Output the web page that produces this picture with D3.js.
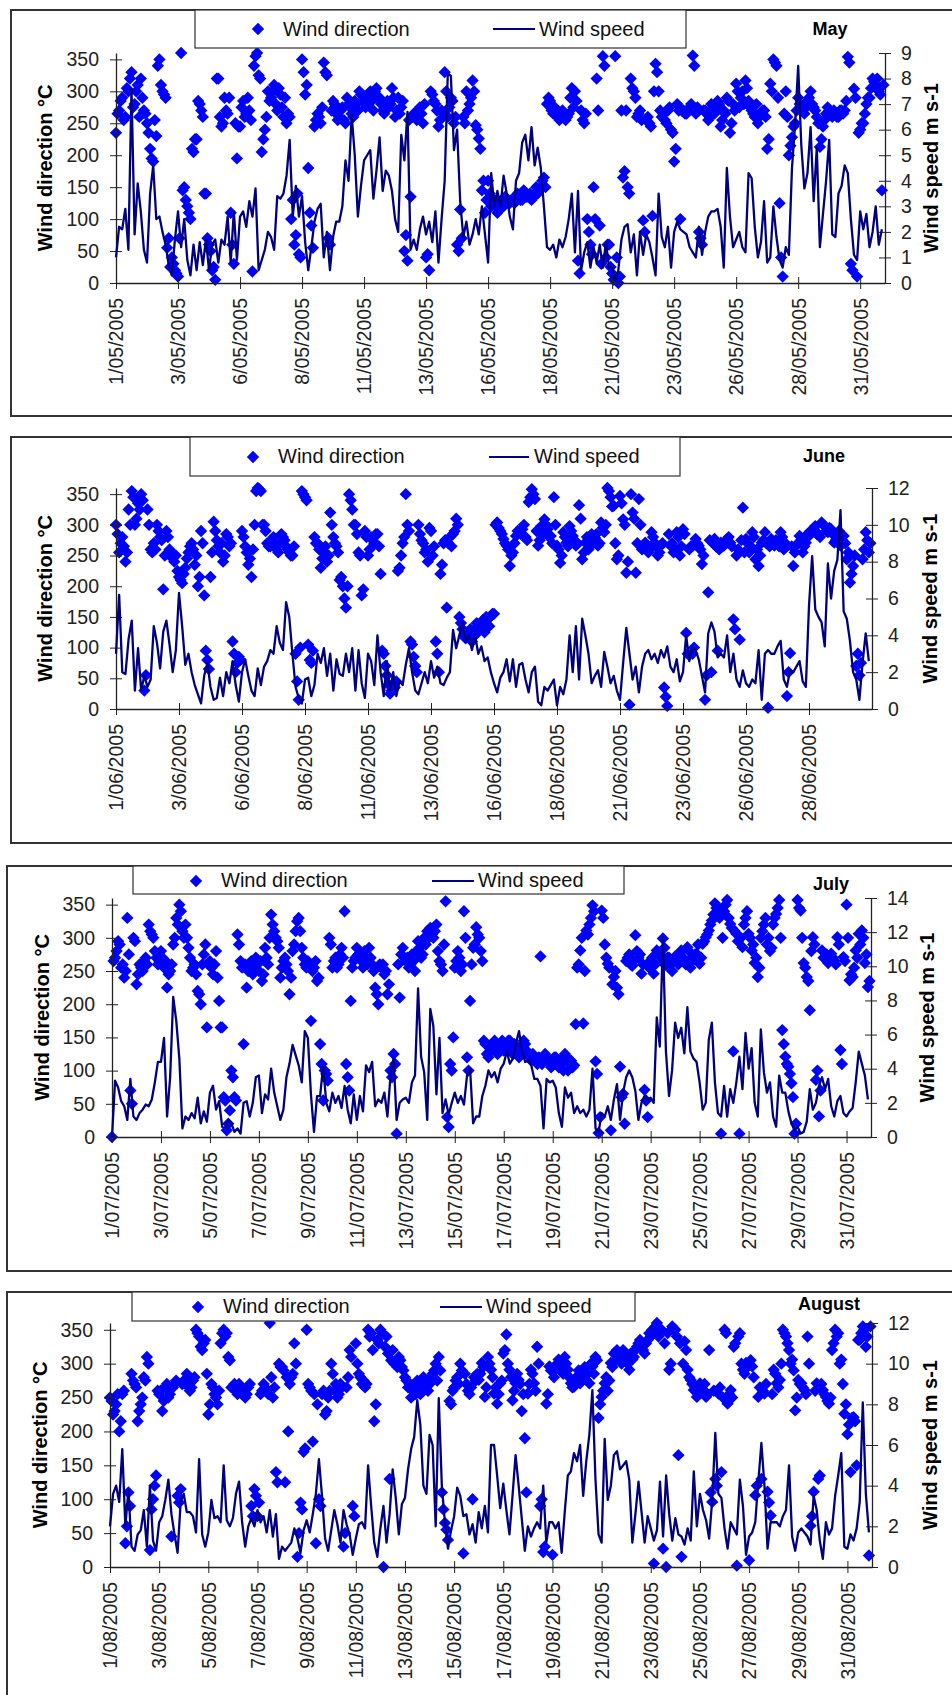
<!DOCTYPE html>
<html>
<head>
<meta charset="utf-8">
<title>Wind direction and wind speed, May - August 2005</title>
<script src="https://cdn.jsdelivr.net/npm/d3@7"></script>
<style>
  body { margin: 0; background: #fff; }
  svg { display: block; font-family: "Liberation Sans", Arial, sans-serif; }
</style>
</head>
<body>
<svg id="chart" width="952" height="1695"></svg>
<script>
// readings are 3-hourly: 8 per day, one row per day.
// direction was logged twice as often; the *DirB arrays hold the in-between readings.
var STEPS = 8;

// wind speed, m s-1
var maySpeed = [
  1.0, 2.2, 2.1, 2.9, 1.3, 7.6, 1.9, 3.9,  2.8, 1.3, 0.8, 3.5, 4.6, 2.5, 2.6, 2.0,
  1.5, 0.7, 0.3, 1.7, 2.8, 1.4, 2.5, 0.9,  0.3, 1.5, 0.5, 1.6, 0.7, 1.7, 0.5, 1.5,
  1.7, 0.8, 1.7, 1.5, 2.6, 0.8, 2.8, 0.9,  2.6, 2.8, 2.2, 3.2, 2.6, 3.7, 0.5, 0.9,
  1.3, 2.0, 1.8, 1.3, 3.4, 3.3, 3.5, 4.2,  5.6, 2.6, 3.8, 2.6, 3.4, 1.6, 0.5, 1.4,
  2.4, 2.9, 3.1, 1.0, 2.0, 0.5, 1.8, 2.4,  2.4, 3.0, 4.8, 4.0, 6.6, 5.0, 2.6, 3.8,
  4.8, 5.0, 5.2, 3.3, 4.4, 5.7, 3.6, 4.4,  4.2, 3.6, 2.5, 2.0, 5.8, 4.8, 6.7, 1.3,
  1.7, 1.3, 2.1, 2.6, 1.9, 2.4, 1.6, 2.8,  0.8, 2.5, 4.0, 8.2, 8.1, 5.2, 6.0, 3.2,
  1.8, 2.4, 1.5, 1.9, 2.5, 1.9, 3.0, 1.9,  0.8, 4.3, 3.0, 3.6, 3.0, 4.2, 3.5, 2.6,
  2.1, 4.0, 4.3, 5.5, 5.8, 4.8, 6.1, 4.6,  5.3, 4.5, 3.0, 1.4, 1.3, 1.5, 1.0, 1.7,
  1.4, 1.8, 2.5, 3.5, 1.2, 3.6, 0.5, 1.2,  1.6, 0.6, 1.4, 0.8, 1.5, 0.6, 1.6, 0.6,
  0.6, 0.1, 0.5, 1.7, 2.2, 2.3, 1.2, 1.9,  0.3, 2.0, 1.1, 1.9, 1.6, 1.0, 0.3, 3.5,
  1.8, 1.4, 2.2, 0.6, 2.0, 2.4, 2.1, 2.0,  1.9, 1.4, 1.2, 1.0, 2.2, 1.1, 2.0, 2.6,
  2.8, 2.8, 2.9, 2.2, 0.6, 4.5, 2.6, 1.4,  1.7, 2.0, 1.4, 1.2, 4.3, 4.1, 2.2, 1.0,
  1.6, 3.2, 0.8, 1.0, 3.0, 1.8, 0.9, 0.6,  1.4, 1.1, 4.5, 6.2, 8.5, 5.4, 3.7, 4.3,
  6.1, 3.2, 5.3, 1.4, 2.7, 4.0, 5.6, 1.9,  1.8, 3.5, 3.8, 4.6, 4.3, 2.5, 1.1, 0.9,
  2.8, 2.1, 2.7, 1.4, 2.0, 3.0, 1.5, 2.1
];
// wind direction, degrees
var mayDir = [
  235, 270, 290, 260, 300, 330, 280, 310,  320, 270, 250, 210, 190, 230, 350, 300,
  290, 70, 40, 20, 10, 360, 150, 120,      100, 205, 225, 280, 260, 140, 60, 20,
  5, 320, 245, 290, 265, 110, 30, 195,     245, 285, 265, 270, 18, 355, 325, 205,
  240, 300, 290, 310, 270, 295, 260, 250,  260, 130, 75, 45, 350, 295, 180, 90,
  245, 265, 250, 345, 325, 60, 285, 265,   260, 275, 250, 280, 265, 285, 270, 295,
  290, 280, 300, 270, 305, 290, 270, 280,  275, 305, 260, 290, 275, 50, 35, 135,
  265, 255, 275, 250, 40, 20, 295, 280,    245, 270, 330, 260, 290, 250, 60, 115,
  260, 300, 280, 317, 247, 226, 145, 110,  160, 120, 130, 110, 125, 120, 130, 125,
  130, 135, 135, 130, 140, 135, 130, 140,  140, 150, 165, 280, 285, 265, 270, 255,
  270, 255, 265, 305, 300, 35, 270, 250,   100, 60, 150, 320, 90, 355, 40, 60,
  15, 355, 0, 270, 175, 150, 320, 300,     260, 270, 98, 255, 250, 105, 343, 300,
  260, 255, 270, 240, 190, 280, 100, 270,  265, 275, 356, 265, 80, 60, 270, 255,
  280, 265, 285, 245, 270, 290, 235, 280,  312, 275, 300, 317, 285, 270, 260, 250,
  265, 270, 210, 312, 350, 340, 125, 10,   300, 200, 228, 250, 290, 275, 265, 285,
  300, 275, 260, 213, 245, 265, 270, 260,  265, 260, 270, 270, 354, 30, 304, 10,
  240, 250, 280, 290, 320, 310, 300, 145
];
var mayDirB = [
  265, 285, 255, 305, 320, 275, 300, 260,  290, 265, 235, 195, 255, 340, 310, 295,
  55, 25, 30, 15, 70, 145, 130, 110,       210, 225, 285, 270, 140, 70, 50, 25,
  320, 260, 250, 270, 290, 60, 250, 245,   275, 260, 290, 255, 340, 360, 320, 225,
  260, 285, 300, 280, 305, 275, 290, 265,  100, 60, 140, 40, 330, 310, 110, 55,
  255, 260, 275, 330, 70, 270, 280, 255,   270, 255, 290, 275, 260, 280, 300, 285,
  275, 295, 285, 300, 290, 280, 265, 285,  280, 290, 270, 265, 285, 75, 255, 260,
  260, 270, 265, 280, 45, 300, 285, 270,   255, 265, 300, 275, 285, 260, 50, 70,
  250, 270, 290, 300, 240, 210, 160, 130,  140, 125, 120, 115, 130, 135, 125, 130,
  125, 140, 130, 145, 135, 140, 135, 150,  145, 160, 150, 290, 270, 275, 260, 265,
  265, 260, 290, 275, 285, 15, 255, 265,   80, 45, 100, 270, 30, 340, 60, 25,
  5, 40, 10, 165, 270, 140, 305, 290,      265, 255, 80, 260, 245, 300, 330, 270,
  265, 250, 275, 235, 210, 270, 270, 265,  270, 280, 340, 275, 70, 270, 265, 260,
  275, 270, 280, 255, 265, 285, 250, 270,  300, 290, 280, 305, 275, 265, 280, 260,
  270, 260, 225, 300, 345, 290, 40, 265,   260, 215, 245, 270, 280, 270, 275, 290,
  280, 270, 250, 225, 255, 275, 265, 270,  260, 270, 265, 285, 345, 20, 290, 235,
  250, 265, 290, 305, 315, 320, 295, 310
];

var juneSpeed = [
  3.0, 6.2, 2.0, 1.9, 3.8, 4.8, 1.0, 3.3,  1.0, 1.8, 1.2, 1.6, 4.5, 3.6, 2.2, 4.2,
  4.8, 3.5, 2.0, 3.2, 6.3, 4.5, 2.4, 3.0,  2.0, 1.3, 0.8, 0.3, 1.8, 2.5, 1.2, 0.5,
  0.6, 1.7, 0.7, 2.0, 1.4, 2.6, 1.3, 0.4,  2.0, 2.7, 1.8, 1.0, 0.7, 2.2, 1.3, 2.3,
  2.6, 3.2, 3.0, 4.5, 3.6, 3.2, 5.8, 5.0,  3.0, 1.2, 0.6, 0.3, 1.6, 1.7, 0.7, 1.3,
  3.0, 2.5, 3.3, 1.8, 3.0, 1.0, 2.7, 1.9,  1.8, 3.0, 2.0, 3.3, 1.0, 3.2, 1.4, 0.6,
  3.0, 2.6, 1.3, 4.0, 2.0, 0.7, 2.6, 1.0,  2.0, 0.7, 1.5, 1.3, 2.4, 3.3, 2.0, 1.0,
  0.8, 1.4, 2.0, 1.4, 2.6, 1.7, 2.3, 1.4,  1.3, 1.7, 2.0, 4.3, 3.3, 4.0, 4.7, 3.7,
  4.0, 3.2, 4.0, 3.0, 3.4, 2.6, 2.8, 2.0,  1.4, 0.9, 1.7, 2.0, 2.7, 1.5, 2.7, 1.2,
  2.4, 2.5, 1.6, 0.9, 2.0, 2.3, 0.4, 0.2,  1.2, 1.0, 1.3, 1.6, 0.2, 1.2, 0.8, 1.6,
  4.0, 2.0, 4.5, 1.6, 4.9, 4.0, 3.0, 1.4,  1.8, 2.1, 1.2, 3.1, 2.3, 1.4, 1.8, 1.0,
  0.5, 2.5, 4.4, 3.0, 1.6, 2.3, 0.9, 2.3,  3.0, 3.2, 2.7, 3.0, 2.5, 3.2, 2.8, 3.4,
  2.3, 2.0, 2.7, 1.5, 2.0, 4.0, 2.6, 3.3,  3.2, 2.7, 1.8, 0.9, 4.1, 4.7, 4.2, 2.8,
  3.0, 2.8, 4.0, 2.0, 3.0, 1.6, 1.2, 2.1,  1.4, 1.2, 1.6, 1.4, 3.2, 0.5, 3.0, 3.2,
  3.0, 3.0, 3.4, 3.7, 1.6, 1.2, 2.1, 2.0,  2.3, 2.6, 1.5, 1.2, 5.6, 8.3, 5.4, 5.0,
  4.7, 3.4, 7.9, 6.0, 7.5, 8.1, 10.8, 5.3, 4.9, 3.7, 2.0, 1.6, 0.5, 2.5, 4.1, 2.6
];
var juneDir = [
  300, 255, 280, 240, 325, 355, 300, 335,  350, 30, 325, 260, 270, 300, 280, 195,
  290, 260, 245, 250, 215, 205, 230, 255,  270, 235, 200, 290, 185, 80, 215, 305,
  275, 255, 240, 285, 265, 110, 60, 85,    290, 265, 235, 215, 300, 360, 355, 300,
  270, 265, 280, 260, 270, 280, 265, 255,  250, 90, 15, 355, 345, 105, 75, 280,
  270, 230, 255, 240, 320, 280, 265, 210,  200, 165, 350, 325, 300, 255, 185, 290,
  250, 280, 270, 285, 220, 90, 55, 25,     40, 45, 230, 270, 350, 290, 105, 70,
  300, 275, 255, 240, 290, 265, 90, 220,   270, 165, 280, 285, 310, 150, 130, 115,
  125, 110, 120, 135, 140, 125, 146, 151,  155, 304, 290, 277, 266, 233, 255, 282,
  288, 293, 280, 337, 358, 342, 266, 298,  309, 293, 282, 345, 266, 238, 288, 271,
  298, 282, 266, 332, 244, 271, 260, 285,  279, 266, 304, 288, 360, 345, 331, 244,
  347, 309, 222, 7, 320, 222, 342, 260,    271, 255, 288, 271, 250, 266, 35, 5,
  266, 255, 288, 250, 293, 124, 260, 90,   277, 266, 236, 15, 190, 60, 277, 95,
  271, 266, 277, 271, 146, 250, 113, 328,  277, 255, 288, 244, 233, 271, 288, 2,
  277, 266, 271, 288, 260, 21, 91, 233,    266, 282, 255, 271, 282, 288, 298, 285,
  304, 298, 288, 293, 271, 282, 266, 282,  244, 206, 233, 70, 55, 244, 288, 255
];
var juneDirB = [
  285, 270, 265, 255, 300, 345, 310, 325,  340, 55, 300, 255, 260, 290, 275, 250,
  280, 255, 240, 225, 210, 220, 245, 265,  260, 250, 215, 270, 95, 65, 255, 290,
  265, 270, 250, 280, 270, 90, 75, 80,     280, 255, 245, 260, 355, 358, 300, 290,
  265, 275, 270, 255, 285, 275, 260, 250,  265, 45, 100, 350, 340, 80, 95, 270,
  260, 245, 265, 250, 300, 270, 255, 215,  180, 200, 340, 300, 285, 250, 195, 280,
  260, 275, 285, 265, 95, 70, 40, 30,      35, 225, 250, 280, 300, 110, 85, 60,
  285, 270, 260, 295, 250, 110, 60, 235,   275, 270, 265, 290, 300, 140, 120, 125,
  130, 120, 140, 130, 145, 150, 135, 155,  300, 295, 285, 270, 260, 250, 270, 290,
  285, 300, 275, 345, 350, 290, 275, 285,  300, 280, 270, 300, 260, 250, 280, 265,
  290, 275, 270, 310, 255, 280, 265, 275,  285, 270, 295, 300, 355, 330, 270, 250,
  335, 300, 240, 350, 310, 270, 300, 265,  265, 260, 280, 265, 255, 270, 20, 285,
  270, 260, 280, 265, 285, 90, 265, 100,   270, 260, 250, 55, 275, 270, 265, 260,
  265, 270, 280, 265, 130, 260, 275, 255,  270, 265, 280, 260, 250, 275, 270, 265,
  270, 275, 265, 280, 270, 60, 265, 255,   270, 275, 265, 285, 290, 295, 285, 280,
  300, 290, 295, 285, 275, 290, 275, 270,  255, 220, 250, 90, 75, 260, 275, 270
];

var julySpeed = [
  0.0, 3.3, 2.9, 2.1, 1.8, 1.0, 3.4, 1.2,  1.0, 1.4, 1.6, 1.9, 1.8, 2.2, 3.2, 4.4,
  4.4, 5.8, 1.2, 3.5, 8.2, 6.8, 4.6, 0.5,  1.2, 1.0, 1.4, 1.1, 2.3, 0.8, 1.5, 0.9,
  2.6, 3.0, 1.6, 2.1, 0.6, 0.5, 1.0, 0.8,  0.3, 0.5, 0.2, 2.0, 2.1, 1.2, 2.0, 3.5,
  3.6, 1.4, 2.5, 2.2, 4.0, 2.6, 1.8, 1.0,  1.6, 3.5, 4.3, 5.4, 4.8, 4.2, 3.2, 6.2,
  5.8, 2.5, 0.3, 2.4, 2.4, 4.2, 2.0, 1.5,  2.6, 2.0, 2.4, 1.7, 3.0, 1.6, 0.8, 2.5,
  1.0, 2.4, 1.5, 4.2, 3.8, 4.4, 1.8, 2.2,  2.0, 2.6, 1.2, 3.6, 4.6, 1.0, 2.0, 2.2,
  2.3, 2.0, 3.2, 3.6, 8.7, 4.7, 3.8, 1.0,  7.5, 6.5, 2.5, 5.8, 1.4, 2.2, 1.3, 2.0,
  2.6, 2.0, 2.4, 1.9, 3.6, 4.0, 0.8, 1.2,  1.2, 2.4, 3.0, 3.9, 3.5, 3.8, 3.2, 4.0,
  4.3, 5.0, 4.3, 4.6, 5.5, 6.2, 5.0, 4.4,  4.5, 4.2, 3.4, 3.4, 3.0, 0.5, 3.4, 3.2,
  3.3, 2.9, 1.4, 0.6, 2.9, 2.3, 2.6, 1.4,  1.8, 1.4, 1.6, 1.2, 1.6, 4.0, 0.5, 0.3,
  1.4, 1.2, 1.8, 1.0, 2.2, 3.1, 1.0, 2.6,  3.5, 3.9, 3.5, 2.7, 1.0, 2.0, 2.4, 2.2,
  2.3, 2.0, 7.0, 5.3, 11.7, 5.0, 2.4, 3.9, 6.7, 5.8, 6.4, 4.9, 7.6, 5.0, 4.6, 4.4,
  3.2, 1.6, 2.0, 5.7, 6.7, 3.2, 1.4, 1.2,  3.0, 1.2, 2.8, 2.0, 3.2, 4.7, 2.8, 6.1,
  4.0, 5.2, 2.0, 1.2, 6.3, 3.8, 2.6, 3.2,  1.2, 0.6, 3.6, 2.6, 2.6, 1.5, 0.8, 0.4,
  0.6, 0.2, 0.3, 0.9, 2.8, 1.6, 2.0, 3.0,  3.5, 2.8, 3.4, 1.8, 1.2, 2.1, 2.4, 1.4,
  1.2, 1.5, 1.7, 3.2, 5.0, 4.3, 3.6, 2.2
];
var julyDir = [
  0, 270, 295, 255, 240, 330, 70, 300,     230, 260, 250, 270, 320, 305, 280, 260,
  280, 255, 225, 250, 290, 330, 350, 310,  320, 285, 250, 260, 220, 200, 275, 165,
  265, 245, 280, 205, 165, 55, 20, 100,    60, 305, 265, 140, 225, 255, 245, 270,
  250, 235, 285, 260, 335, 310, 295, 240,  265, 260, 215, 280, 310, 330, 285, 260,
  265, 175, 255, 235, 140, 55, 95, 300,    255, 270, 260, 285, 340, 90, 205, 265,
  285, 270, 255, 270, 285, 260, 225, 200,  255, 245, 215, 100, 125, 5, 210, 285,
  265, 255, 275, 250, 295, 270, 300, 310,  315, 300, 320, 265, 250, 355, 15, 100,
  255, 280, 250, 340, 120, 205, 285, 316,  300, 265, 140, 120, 130, 145, 125, 140,
  130, 140, 145, 125, 135, 120, 130, 140,  125, 115, 120, 110, 272, 115, 120, 110,
  115, 120, 105, 110, 125, 100, 115, 108,  255, 281, 171, 311, 320, 349, 114, 6,
  341, 290, 261, 10, 241, 225, 106, 65,    265, 275, 258, 304, 270, 246, 71, 30,
  266, 246, 281, 276, 299, 259, 270, 250,  272, 260, 281, 266, 286, 255, 266, 276,
  261, 291, 301, 311, 326, 352, 344, 5,    340, 357, 321, 129, 306, 5, 286, 330,
  306, 281, 262, 241, 300, 320, 290, 280,  320, 336, 357, 161, 121, 106, 81, 5,
  357, 341, 262, 241, 191, 301, 86, 31,    281, 271, 262, 276, 266, 301, 131, 271,
  350, 236, 241, 281, 306, 311, 262, 226
];
var julyDirB = [
  265, 280, 290, 260, 250, 275, 50, 295,   245, 255, 265, 260, 310, 300, 270, 265,
  270, 265, 245, 260, 300, 320, 340, 300,  300, 270, 255, 245, 215, 260, 290, 260,
  255, 260, 240, 165, 60, 10, 40, 90,      55, 290, 255, 260, 250, 265, 255, 260,
  265, 245, 270, 300, 320, 300, 285, 255,  270, 250, 240, 290, 325, 310, 270, 255,
  260, 250, 265, 240, 110, 100, 85, 290,   265, 255, 275, 270, 110, 70, 255, 270,
  275, 265, 280, 260, 270, 250, 215, 260,  260, 250, 230, 90, 110, 260, 275, 270,
  270, 260, 265, 280, 285, 275, 290, 300,  305, 310, 280, 260, 290, 30, 110, 150,
  265, 270, 260, 300, 100, 260, 290, 305,  280, 145, 125, 135, 140, 130, 135, 145,
  135, 145, 130, 140, 125, 135, 145, 130,  120, 125, 115, 120, 110, 125, 115, 105,
  120, 110, 115, 100, 120, 110, 105, 170,  260, 300, 250, 305, 330, 340, 95, 30,
  330, 270, 255, 230, 250, 215, 60, 20,    270, 260, 265, 280, 275, 260, 55, 255,
  270, 260, 275, 265, 285, 270, 260, 265,  265, 275, 270, 260, 280, 270, 275, 290,
  270, 295, 305, 320, 335, 345, 330, 300,  350, 330, 315, 310, 295, 300, 320, 340,
  300, 290, 270, 255, 310, 330, 300, 285,  330, 345, 300, 140, 110, 95, 60, 20,
  345, 300, 255, 235, 280, 290, 100, 70,   270, 275, 265, 270, 260, 290, 110, 265,
  300, 245, 255, 270, 290, 300, 275, 235
];

var augSpeed = [
  2.0, 3.6, 4.0, 3.2, 5.8, 2.0, 3.8, 1.0,  0.8, 1.6, 1.8, 2.8, 1.0, 4.0, 1.3, 0.8,
  2.2, 2.5, 3.3, 4.3, 2.6, 1.6, 0.7, 3.2,  3.6, 2.7, 2.7, 2.5, 1.7, 5.3, 1.6, 1.0,
  1.7, 3.3, 2.4, 2.5, 2.2, 5.0, 2.3, 2.0,  2.4, 3.6, 4.2, 2.2, 1.0, 2.0, 2.4, 2.0,
  2.8, 2.2, 2.5, 1.7, 2.8, 1.5, 2.6, 0.4,  1.0, 0.8, 1.0, 1.2, 1.9, 1.4, 0.7, 1.8,
  2.3, 1.7, 2.6, 3.6, 5.3, 3.5, 1.4, 0.8,  1.8, 2.8, 2.1, 1.2, 2.8, 2.1, 1.6, 0.6,
  1.4, 2.1, 2.2, 1.9, 5.0, 3.0, 1.2, 0.5,  1.9, 3.0, 1.2, 2.6, 4.8, 3.4, 1.6, 3.1,
  3.4, 4.8, 5.8, 6.4, 8.2, 7.0, 4.0, 3.6,  6.5, 6.0, 2.0, 8.3, 4.0, 2.2, 0.9, 1.8,
  2.5, 3.9, 3.5, 2.5, 2.6, 1.6, 2.1, 1.2,  2.7, 1.9, 3.0, 1.7, 6.0, 6.0, 4.5, 2.9,
  4.1, 2.8, 1.6, 3.5, 5.5, 4.0, 2.4, 0.8,  2.0, 1.5, 1.9, 2.2, 1.9, 4.0, 1.2, 2.2,
  2.2, 1.9, 2.2, 0.7, 2.7, 4.5, 4.7, 5.6,  5.2, 6.0, 3.5, 5.2, 6.5, 8.7, 4.3, 1.6,
  1.2, 6.3, 3.3, 4.0, 5.5, 5.7, 4.8, 5.0,  5.2, 4.3, 1.2, 2.6, 4.2, 2.7, 1.2, 2.5,
  1.9, 1.3, 1.8, 4.2, 1.5, 4.5, 2.6, 1.3,  2.4, 1.6, 1.5, 1.1, 1.9, 1.3, 4.7, 2.0,
  3.6, 2.8, 2.3, 1.4, 3.3, 6.6, 3.6, 3.4,  1.9, 0.9, 2.2, 1.9, 1.6, 4.3, 3.0, 0.6,
  1.5, 1.7, 2.2, 4.2, 6.1, 4.0, 0.9, 2.2,  2.2, 2.2, 2.0, 2.5, 2.8, 5.0, 1.5, 0.8,
  1.7, 1.9, 1.7, 1.5, 1.1, 3.5, 2.8, 1.3,  0.4, 2.2, 1.6, 1.9, 3.5, 4.5, 5.6, 1.0,
  0.9, 1.6, 1.3, 1.9, 3.2, 8.1, 3.6, 1.7
];
var augDir = [
  250, 225, 240, 200, 255, 35, 110, 285,   270, 215, 240, 280, 310, 25, 100, 135,
  255, 230, 265, 250, 45, 270, 105, 115,   275, 285, 260, 275, 350, 340, 320, 335,
  225, 270, 255, 240, 330, 350, 345, 305,  265, 260, 270, 255, 250, 265, 90, 115,
  75, 255, 270, 260, 360, 250, 140, 300,   295, 125, 200, 280, 330, 15, 95, 170,
  350, 265, 185, 35, 100, 255, 225, 250,   300, 260, 250, 270, 30, 265, 320, 90,
  330, 285, 270, 265, 350, 345, 215, 335,  350, 0, 340, 130, 320, 300, 310, 295,
  280, 265, 250, 260, 275, 255, 280, 265,  270, 285, 300, 310, 110, 65, 40, 240,
  265, 280, 300, 20, 270, 255, 100, 275,   276, 301, 251, 310, 291, 256, 241, 271,
  315, 343, 291, 246, 271, 276, 230, 190,  256, 291, 271, 325, 90, 22, 241, 296,
  18, 291, 306, 296, 310, 291, 271, 266,   281, 271, 286, 276, 271, 296, 310, 220,
  251, 271, 260, 301, 315, 320, 310, 320,  310, 291, 306, 320, 330, 325, 315, 335,
  340, 5, 360, 345, 27, 0, 291, 355,       350, 165, 15, 333, 291, 276, 261, 251,
  271, 261, 251, 320, 96, 130, 256, 140,   350, 241, 261, 325, 2, 345, 291, 301,
  10, 296, 106, 251, 130, 256, 111, 76,    291, 271, 276, 350, 340, 320, 306, 231,
  276, 271, 261, 340, 61, 111, 271, 135,   261, 251, 241, 320, 350, 345, 306, 226,
  196, 140, 221, 150, 335, 355, 325, 17
];
var augDirB = [
  245, 230, 255, 215, 260, 60, 90, 275,    265, 230, 250, 275, 300, 85, 120, 260,
  260, 245, 270, 255, 265, 275, 95, 270,   270, 280, 265, 280, 345, 325, 330, 285,
  240, 265, 250, 260, 345, 340, 310, 265,  270, 255, 265, 260, 255, 270, 75, 105,
  95, 260, 265, 255, 280, 265, 125, 295,   290, 280, 270, 285, 300, 50, 85, 175,
  270, 260, 255, 240, 90, 260, 230, 260,   285, 270, 255, 265, 50, 280, 310, 75,
  300, 280, 275, 270, 340, 320, 240, 330,  345, 325, 315, 305, 300, 295, 305, 290,
  275, 270, 260, 255, 270, 265, 275, 260,  280, 290, 275, 290, 85, 55, 245, 260,
  275, 270, 290, 285, 260, 265, 280, 285,  285, 295, 265, 300, 280, 265, 255, 275,
  320, 300, 280, 260, 285, 270, 255, 110,  270, 285, 260, 300, 100, 30, 255, 290,
  280, 300, 295, 285, 300, 280, 265, 275,  290, 280, 295, 285, 300, 285, 305, 240,
  260, 280, 275, 295, 305, 315, 300, 310,  300, 315, 310, 325, 335, 320, 330, 345,
  350, 355, 340, 350, 330, 345, 300, 350,  340, 330, 300, 320, 280, 270, 265, 255,
  265, 270, 255, 110, 260, 120, 265, 250,  345, 255, 250, 330, 340, 300, 285, 295,
  305, 280, 120, 265, 260, 270, 95, 255,   285, 265, 300, 345, 330, 300, 290, 250,
  270, 265, 255, 300, 75, 260, 130, 270,   255, 245, 250, 330, 340, 300, 270, 240,
  210, 220, 215, 335, 345, 350, 340, 355
];

var mayLabels = ["1/05/2005", "3/05/2005", "6/05/2005", "8/05/2005", "11/05/2005", "13/05/2005",
  "16/05/2005", "18/05/2005", "21/05/2005", "23/05/2005", "26/05/2005", "28/05/2005", "31/05/2005"];
var juneLabels = ["1/06/2005", "3/06/2005", "6/06/2005", "8/06/2005", "11/06/2005", "13/06/2005",
  "16/06/2005", "18/06/2005", "21/06/2005", "23/06/2005", "26/06/2005", "28/06/2005"];
var julyLabels = ["1/07/2005", "3/07/2005", "5/07/2005", "7/07/2005", "9/07/2005", "11/07/2005",
  "13/07/2005", "15/07/2005", "17/07/2005", "19/07/2005", "21/07/2005", "23/07/2005",
  "25/07/2005", "27/07/2005", "29/07/2005", "31/07/2005"];
var augLabels = ["1/08/2005", "3/08/2005", "5/08/2005", "7/08/2005", "9/08/2005", "11/08/2005",
  "13/08/2005", "15/08/2005", "17/08/2005", "19/08/2005", "21/08/2005", "23/08/2005",
  "25/08/2005", "27/08/2005", "29/08/2005", "31/08/2005"];

var dirTicks = [0, 50, 100, 150, 200, 250, 300, 350];
var maySpeedTicks = [0, 1, 2, 3, 4, 5, 6, 7, 8, 9];
var juneSpeedTicks = [0, 2, 4, 6, 8, 10, 12];
var julySpeedTicks = [0, 2, 4, 6, 8, 10, 12, 14];
var augSpeedTicks = [0, 2, 4, 6, 8, 10, 12];

// page layout of each framed panel
var panels = [
  {month: "May", speed: maySpeed, dir: mayDir, dirB: mayDirB, labels: mayLabels, sTicks: maySpeedTicks, sMax: 9, every: 2.5,
   fx: 11, fy: 10, fb: 416, left: 116, right: 885, top: 53, bottom: 283,
   lg: [195, 686, 10, 48], lMid: 29, lBase: 36, lDia: 258, lTxt1: 283, lLine: [493, 535], lTxt2: 539,
   title: [830, 35], ltx: 45, rtx: 931},
  {month: "June", speed: juneSpeed, dir: juneDir, dirB: juneDirB, labels: juneLabels, sTicks: juneSpeedTicks, sMax: 12, every: 2.5,
   fx: 11, fy: 437, fb: 843, left: 116, right: 872, top: 488, bottom: 709,
   lg: [190, 680, 437, 476], lMid: 457, lBase: 463, lDia: 253, lTxt1: 278, lLine: [489, 529], lTxt2: 534,
   title: [824, 462], ltx: 45, rtx: 930},
  {month: "July", speed: julySpeed, dir: julyDir, dirB: julyDirB, labels: julyLabels, sTicks: julySpeedTicks, sMax: 14, every: 2,
   fx: 7, fy: 866, fb: 1271, left: 112, right: 871, top: 898, bottom: 1137,
   lg: [133, 624, 866, 894], lMid: 881, lBase: 887, lDia: 196, lTxt1: 221, lLine: [432, 474], lTxt2: 478,
   title: [831, 890], ltx: 42, rtx: 927},
  {month: "August", speed: augSpeed, dir: augDir, dirB: augDirB, labels: augLabels, sTicks: augSpeedTicks, sMax: 12, every: 2,
   fx: 7, fy: 1292, fb: 1730, left: 110, right: 872, top: 1323, bottom: 1567,
   lg: [132, 635, 1292, 1321], lMid: 1307, lBase: 1313, lDia: 198, lTxt1: 223, lLine: [440, 482], lTxt2: 486,
   title: [829, 1310], ltx: 40, rtx: 930}
];

var svg = d3.select("#chart");
var diamond = d3.symbol().type(d3.symbolSquare).size(76);

function drawPanel(p) {
  var nDays = p.speed.length / STEPS;
  var x = d3.scaleLinear().domain([0, nDays]).range([p.left, p.right]);
  var yDir = d3.scaleLinear().domain([0, 360]).range([p.bottom, p.top]);
  var ySpd = d3.scaleLinear().domain([0, p.sMax]).range([p.bottom, p.top]);
  var g = svg.append("g");

  g.append("rect")
      .attr("x", p.fx).attr("y", p.fy)
      .attr("width", 990 - p.fx).attr("height", p.fb - p.fy)
      .attr("fill", "#fff").attr("stroke", "#333").attr("stroke-width", 2);

  // wind direction markers, both readings of each 3-hour slot
  var pts = p.dir.map(function(d, i){ return {t: i / STEPS, v: d}; })
      .concat(p.dirB.map(function(d, i){ return {t: (i + 0.5) / STEPS, v: d}; }));
  g.append("g").selectAll("path")
      .data(pts)
      .join("path")
      .attr("transform", function(d){ return "translate(" + x(d.t) + "," + yDir(d.v) + ") rotate(45)"; })
      .attr("d", diamond)
      .attr("fill", "#0000ff");

  // axes
  var tickPos = p.labels.map(function(d, i){ return i * p.every; });
  var gx = g.append("g")
      .attr("transform", "translate(0," + p.bottom + ")")
      .call(d3.axisBottom(x).tickValues(tickPos)
          .tickFormat(function(d){ return p.labels[Math.round(d / p.every)]; })
          .tickSizeInner(6).tickSizeOuter(0));
  gx.selectAll(".tick line").attr("y1", -6).attr("y2", 6);
  gx.selectAll(".tick text")
      .attr("transform", "rotate(-90)")
      .attr("text-anchor", "end")
      .attr("x", -15).attr("y", 0).attr("dy", "0.35em");

  var gl = g.append("g")
      .attr("transform", "translate(" + p.left + ",0)")
      .call(d3.axisLeft(yDir).tickValues(dirTicks).tickSizeInner(6).tickSizeOuter(0).tickPadding(11));
  gl.selectAll(".tick line").attr("x1", 6);

  var gr = g.append("g")
      .attr("transform", "translate(" + p.right + ",0)")
      .call(d3.axisRight(ySpd).tickValues(p.sTicks).tickSizeInner(6).tickSizeOuter(0).tickPadding(10));
  gr.selectAll(".tick line").attr("x1", -6);

  [gx, gl, gr].forEach(function(a){
    a.attr("font-family", null).attr("font-size", 19.5).attr("color", "#222");
    a.select(".domain").attr("stroke-width", 1.3);
  });

  // wind speed line on top
  g.append("path")
      .datum(p.speed)
      .attr("fill", "none")
      .attr("stroke", "#000080")
      .attr("stroke-width", 2.3)
      .attr("stroke-linejoin", "round")
      .attr("d", d3.line()
          .x(function(d, i){ return x(i / STEPS); })
          .y(function(d){ return ySpd(d); }));

  // axis titles
  var midY = (p.top + p.bottom) / 2;
  g.append("text")
      .attr("transform", "translate(" + p.ltx + "," + midY + ") rotate(-90)")
      .attr("text-anchor", "middle").attr("dy", "0.35em")
      .attr("font-weight", "bold").attr("font-size", 20)
      .text("Wind direction °C");
  g.append("text")
      .attr("transform", "translate(" + p.rtx + "," + midY + ") rotate(-90)")
      .attr("text-anchor", "middle").attr("dy", "0.35em")
      .attr("font-weight", "bold").attr("font-size", 20)
      .text("Wind speed m s-1");

  // legend
  g.append("rect")
      .attr("x", p.lg[0]).attr("y", p.lg[2])
      .attr("width", p.lg[1] - p.lg[0]).attr("height", p.lg[3] - p.lg[2])
      .attr("fill", "#fff").attr("stroke", "#333").attr("stroke-width", 1.2);
  g.append("path")
      .attr("transform", "translate(" + p.lDia + "," + p.lMid + ") rotate(45)")
      .attr("d", diamond).attr("fill", "#0000ff");
  g.append("text").attr("x", p.lTxt1).attr("y", p.lBase)
      .attr("font-size", 20).attr("fill", "#111").text("Wind direction");
  g.append("line")
      .attr("x1", p.lLine[0]).attr("x2", p.lLine[1])
      .attr("y1", p.lMid).attr("y2", p.lMid)
      .attr("stroke", "#000080").attr("stroke-width", 2);
  g.append("text").attr("x", p.lTxt2).attr("y", p.lBase)
      .attr("font-size", 20).attr("fill", "#111").text("Wind speed");

  // month label
  g.append("text")
      .attr("x", p.title[0]).attr("y", p.title[1])
      .attr("text-anchor", "middle")
      .attr("font-weight", "bold").attr("font-size", 18)
      .text(p.month);
}

panels.forEach(drawPanel);
</script>
</body>
</html>
